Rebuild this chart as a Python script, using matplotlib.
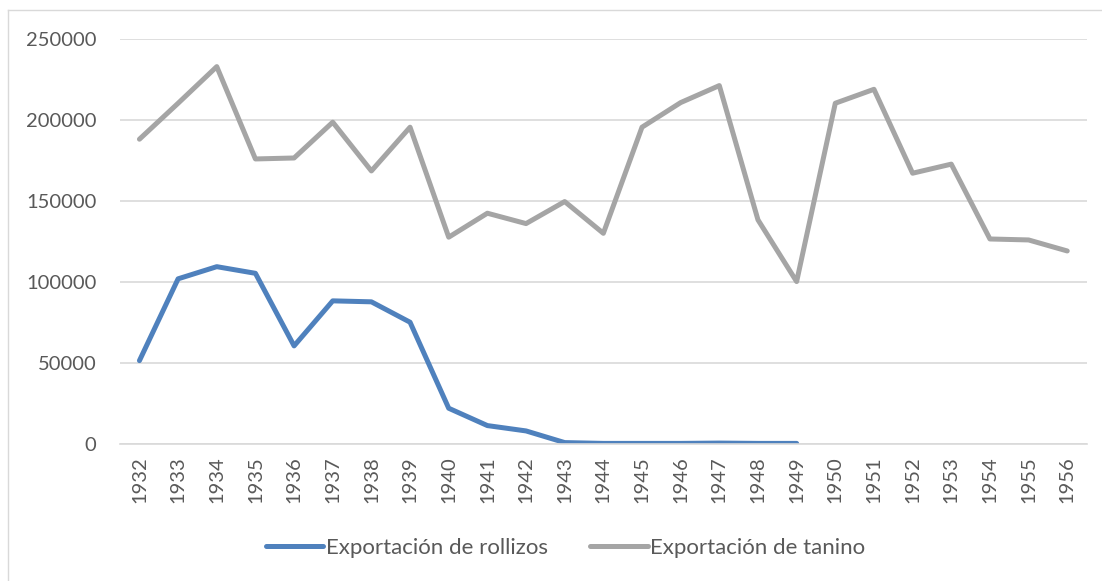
import numpy as np
import matplotlib.pyplot as plt
from matplotlib.lines import Line2D

plt.rcParams['font.family'] = ['Lato', 'DejaVu Sans']

# Datos
anios = [str(a) for a in range(1932, 1957)]

rollizos = [51400, 101900, 109400, 105300, 60500, 88300, 87700, 75100,
            22000, 11300, 8000, 800, 300, 300, 300, 500, 300, 300]

tanino = [188100, 210300, 232900, 175900, 176500, 198600, 168500, 195500,
          127600, 142400, 136000, 149600, 130000, 195500, 210700, 221200,
          138300, 100200, 210300, 218900, 167100, 172700, 126500, 125900,
          119100]

color_texto = '#595959'

fig = plt.figure(figsize=(11.02, 5.81), dpi=100)
ax = fig.add_axes([0.109, 0.236, 0.877, 0.697])

x = np.arange(len(anios))
ax.plot(x[:len(rollizos)], rollizos, color='#4F81BD', lw=3.6,
        solid_joinstyle='round', solid_capstyle='round',
        label='Exportación de rollizos')
ax.plot(x, tanino, color='#A5A5A5', lw=3.6,
        solid_joinstyle='round', solid_capstyle='round',
        label='Exportación de tanino')

ax.set_xlim(-0.5, len(anios) - 0.5)
ax.set_ylim(0, 250000)
ax.set_yticks(np.arange(0, 250001, 50000))
ax.set_xticks(x)
ax.set_xticklabels(anios, rotation=90)
ax.tick_params(axis='both', length=0, labelsize=14.5, colors=color_texto)
ax.tick_params(axis='y', pad=17)
ax.tick_params(axis='x', pad=9)

ax.grid(axis='y', color='#D9D9D9', lw=1.2)
ax.set_axisbelow(True)
for s in ['top', 'right', 'left']:
    ax.spines[s].set_visible(False)
ax.spines['bottom'].set_color('#D9D9D9')
ax.spines['bottom'].set_linewidth(1.2)

leg = fig.legend(loc='center', bbox_to_anchor=(0.513, 0.057), ncol=2,
                 frameon=False, fontsize=16, handlelength=2.6,
                 handletextpad=0.1, columnspacing=1.9)
for t in leg.get_texts():
    t.set_color(color_texto)

# marco del gráfico (solo se ven el borde izquierdo y el superior)
fig.add_artist(Line2D([8 / 1102, 8 / 1102], [0, 1 - 10 / 581],
                      transform=fig.transFigure, color='#D9D9D9', lw=1))
fig.add_artist(Line2D([8 / 1102, 1], [1 - 10 / 581, 1 - 10 / 581],
                      transform=fig.transFigure, color='#D9D9D9', lw=1))

fig.savefig('out.png', dpi=100)
